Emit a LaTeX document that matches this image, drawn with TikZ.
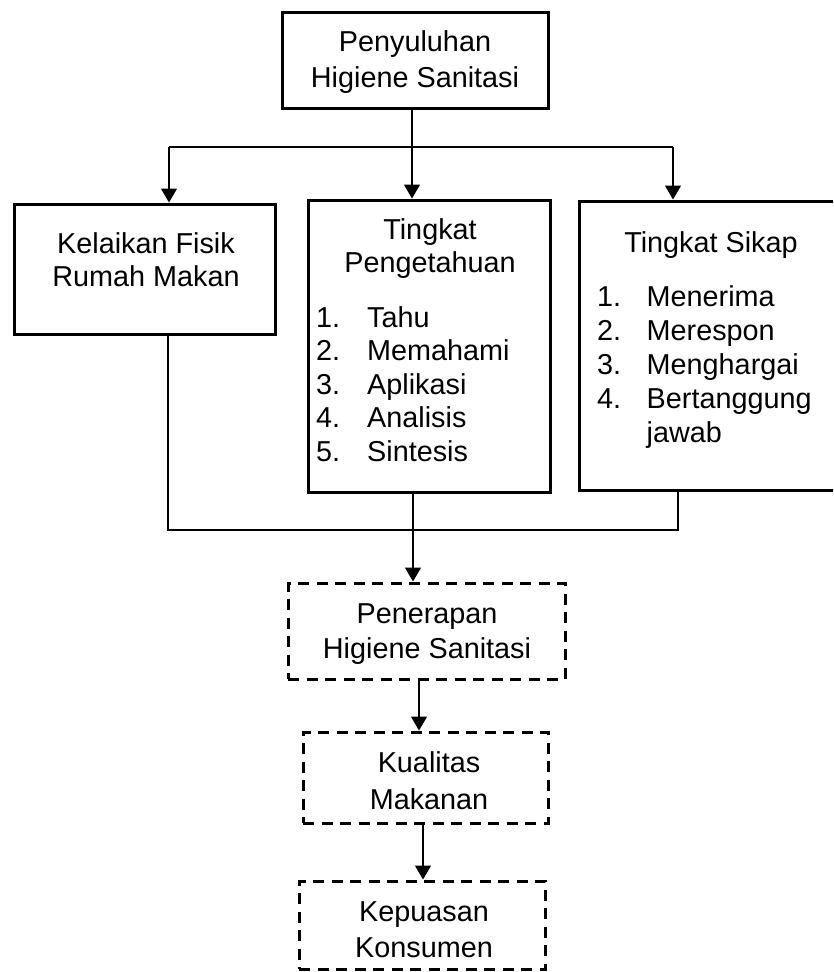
\documentclass[tikz,border=0pt]{standalone}
\usepackage{fontspec}
\setmainfont{Liberation Sans}
\usetikzlibrary{arrows.meta}
\begin{document}
\begin{tikzpicture}[x=1pt,y=-1pt,
  box/.style={draw, line width=3pt, inner sep=0pt, rectangle},
  dbox/.style={box, dash pattern=on 11pt off 7.5pt},
  txt/.style={inner sep=0pt, anchor=base, font=\fontsize{28.8}{34}\selectfont},
  ltxt/.style={txt, anchor=base west},
  conn/.style={line width=1.3pt},
  arr/.style={conn, -{Triangle[length=14pt,width=16pt]}}]
\useasboundingbox (0,0) rectangle (833,972);
\clip (0,0) rectangle (833,972);

% boxes
\node[box, minimum width=266pt, minimum height=96pt] (top) at (415,60) {};
\node[box, minimum width=261pt, minimum height=130pt] (left) at (144.5,269) {};
\node[box, minimum width=242pt, minimum height=292pt] (mid) at (429,346) {};
\node[box, minimum width=264pt, minimum height=289pt] (right) at (711,345.5) {};
\node[dbox, minimum width=277pt, minimum height=96pt] (pen) at (426.5,631) {};
\node[dbox, minimum width=245pt, minimum height=91pt] (kual) at (425.5,777.5) {};
\node[dbox, minimum width=246pt, minimum height=88pt] (kep) at (422,925) {};

% texts
\node[txt] (t1) at (415,51.7) {Penyuluhan};
\node[txt] (t2) at (415,87) {Higiene Sanitasi};
\node[txt] (l1) at (146,253) {Kelaikan Fisik};
\node[txt] (l2) at (146,286) {Rumah Makan};
\node[txt] (m1) at (430,239) {Tingkat};
\node[txt] (m2) at (430,272) {Pengetahuan};
\node[ltxt] (mn1) at (316,327) {1.};
\node[ltxt] (mi1) at (367,327) {Tahu};
\node[ltxt] (mn2) at (316,360.5) {2.};
\node[ltxt] (mi2) at (367,360.5) {Memahami};
\node[ltxt] (mn3) at (316,394) {3.};
\node[ltxt] (mi3) at (367,394) {Aplikasi};
\node[ltxt] (mn4) at (316,427.5) {4.};
\node[ltxt] (mi4) at (367,427.5) {Analisis};
\node[ltxt] (mn5) at (316,461) {5.};
\node[ltxt] (mi5) at (367,461) {Sintesis};
\node[txt] (r1) at (711,252) {Tingkat Sikap};
\node[ltxt] (rn1) at (597,306) {1.};
\node[ltxt] (ri1) at (646.5,306) {Menerima};
\node[ltxt] (rn2) at (597,340) {2.};
\node[ltxt] (ri2) at (646.5,340) {Merespon};
\node[ltxt] (rn3) at (597,374) {3.};
\node[ltxt] (ri3) at (646.5,374) {Menghargai};
\node[ltxt] (rn4) at (597,408) {4.};
\node[ltxt] (ri4) at (646.5,408) {Bertanggung};
\node[ltxt] (ri5) at (646.5,442) {jawab};
\node[txt] (p1) at (427,623) {Penerapan};
\node[txt] (p2) at (427,658) {Higiene Sanitasi};
\node[txt] (k1) at (429,772) {Kualitas};
\node[txt] (k2) at (429,809) {Makanan};
\node[txt] (q1) at (424,921.7) {Kepuasan};
\node[txt] (q2) at (424,957) {Konsumen};

% connectors top
\coordinate (j1) at (412,147);
\coordinate (jl) at (169,147);
\coordinate (jr) at (673,147);
\draw[conn] (top.south -| j1) -- (j1);
\draw[conn] (jl) -- (jr);
\draw[arr] (jl) -- (jl |- left.north);
\draw[arr] (j1) -- (j1 |- mid.north);
\draw[arr] (jr) -- (jr |- right.north);

% connectors bottom
\coordinate (bl) at (168,530);
\coordinate (bm) at (413,530);
\coordinate (br) at (678,530);
\draw[conn] (left.south -| bl) -- (bl) -- (br) -- (right.south -| br);
\draw[conn] (mid.south -| bm) -- (bm);
\draw[arr] (bm) -- (bm |- pen.north);

\coordinate (c1) at (419,0);
\coordinate (c2) at (423,0);
\draw[arr] (pen.south -| c1) -- (kual.north -| c1);
\draw[arr] (kual.south -| c2) -- (kep.north -| c2);
\end{tikzpicture}
\end{document}
